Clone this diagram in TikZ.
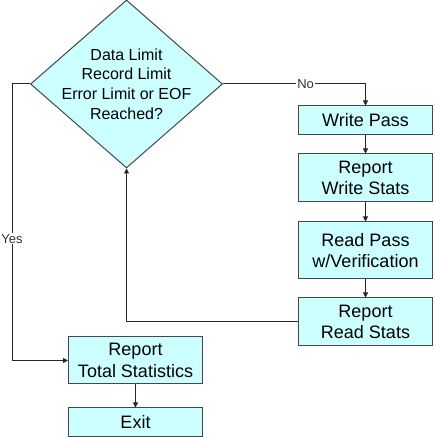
\documentclass[tikz,border=0pt]{standalone}
\usepackage{fontspec}
\setmainfont{Liberation Sans}
\usetikzlibrary{positioning, arrows.meta, shapes.geometric}
\definecolor{boxfill}{HTML}{CCFFFF}

\begin{document}
\begin{tikzpicture}[x=1pt, y=1pt,
        box/.style={rectangle, draw=gray!55!black, line width=1pt, fill=boxfill, minimum width=134pt, inner sep=2pt, align=center, font=\fontsize{18}{21.5}\selectfont},
        decision/.style={diamond, draw=gray!55!black, line width=1pt, fill=boxfill, minimum width=192pt, minimum height=168pt, inner sep=0pt},
        flow/.style={draw=black!85, line width=1pt, -{Triangle[length=5pt, width=5pt]}},
        tag/.style={fill=white, inner sep=1pt, font=\fontsize{13}{15}\selectfont, text=black!80},
    ]
    \useasboundingbox (0,0) rectangle (434,438);

    % Decision
    \node[decision] (limit) at (126.5,354) {};
    \node[align=center, font=\fontsize{16}{19.6}\selectfont] (limittext) at (limit.center) {Data Limit\\Record Limit\\Error Limit or EOF\\Reached?};

    % Right column
    \node[box, minimum height=29pt] (wpass) at (365.5,317.5) {Write Pass};
    \node[box, minimum height=48pt] (wstats) at (365.5,260) {Report\\Write Stats};
    \node[box, minimum height=57pt] (rpass) at (365.5,187.5) {Read Pass\\w/Verification};
    \node[box, minimum height=48pt] (rstats) at (365.5,116) {Report\\Read Stats};

    % Left column
    \node[box, minimum height=47pt] (total) at (135.5,77.5) {Report\\Total Statistics};
    \node[box, minimum height=29pt] (exit) at (135.5,15.5) {Exit};
    \coordinate (yesturn) at (12,354);

    % Connectors
    \draw[flow] (limit.east) -| node[tag, pos=0.29] {No} (wpass.north);
    \draw[flow] (wpass) -- (wstats);
    \draw[flow] (wstats) -- (rpass);
    \draw[flow] (rpass) -- (rstats);
    \draw[flow] (rstats.west) -| (limit.south);
    \draw[flow] (limit.west) -- (yesturn) |- node[tag, pos=0.28] {Yes} (total.west);
    \draw[flow] (total) -- (exit);
\end{tikzpicture}
\end{document}
